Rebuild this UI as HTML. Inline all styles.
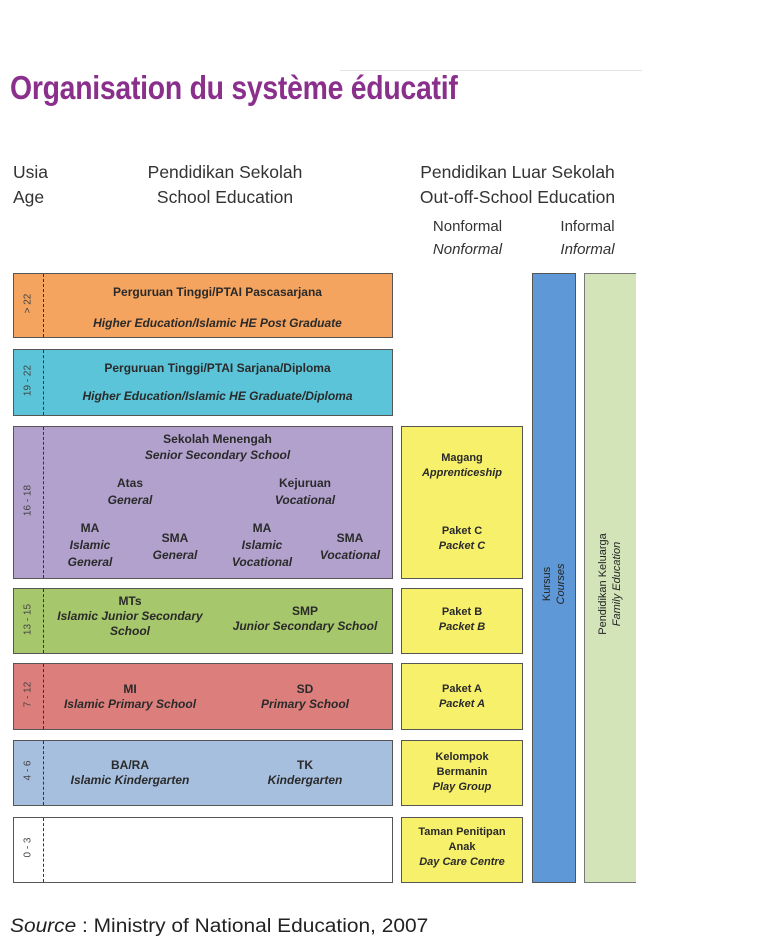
<!DOCTYPE html>
<html><head><meta charset="utf-8"><style>
body{margin:0;width:757px;height:944px;background:#fff;position:relative;overflow:hidden;font-family:"Liberation Sans",sans-serif;}
.a{position:absolute;}
.box{position:absolute;border:1.5px solid #555;box-sizing:border-box;}
.t{position:absolute;text-align:center;font-size:12px;font-weight:bold;color:#2a2a2a;line-height:15px;}
.t i{font-style:italic;}
.age{position:absolute;transform:rotate(-90deg);font-size:10px;color:#444;text-align:center;width:60px;}
.dash{position:absolute;border-left:1.5px dashed #333;}
.h{position:absolute;font-size:17.5px;color:#333;text-align:center;white-space:nowrap;}
.hs{position:absolute;font-size:15px;color:#333;text-align:center;}
</style></head><body>
<div class="a" style="left:340px;top:70px;width:302px;height:1px;background:#e4e4e4"></div>
<div class="a" style="left:10px;top:69px;font-size:33px;font-weight:bold;color:#8a2f8c;transform:scaleX(0.86);transform-origin:left;letter-spacing:-0.3px;white-space:nowrap">Organisation du système éducatif</div>

<div class="h" style="left:13px;top:162px;text-align:left">Usia</div>
<div class="h" style="left:13px;top:187px;text-align:left">Age</div>
<div class="h" style="left:100px;top:162px;width:250px">Pendidikan Sekolah</div>
<div class="h" style="left:100px;top:187px;width:250px">School Education</div>
<div class="h" style="left:400px;top:162px;width:235px">Pendidikan Luar Sekolah</div>
<div class="h" style="left:400px;top:187px;width:235px">Out-off-School Education</div>
<div class="hs" style="left:410px;top:218px;width:115px">Nonformal</div>
<div class="hs" style="left:410px;top:241px;width:115px;font-style:italic">Nonformal</div>
<div class="hs" style="left:540px;top:218px;width:95px">Informal</div>
<div class="hs" style="left:540px;top:241px;width:95px;font-style:italic">Informal</div>

<div class="box" style="left:13px;top:273px;width:380px;height:65px;background:#f4a45e"></div>
<div class="box" style="left:13px;top:349px;width:380px;height:67px;background:#5bc4d8"></div>
<div class="box" style="left:13px;top:426px;width:380px;height:153px;background:#b1a1cc"></div>
<div class="box" style="left:13px;top:588px;width:380px;height:66px;background:#a6c76b"></div>
<div class="box" style="left:13px;top:663px;width:380px;height:67px;background:#dc7f7c"></div>
<div class="box" style="left:13px;top:740px;width:380px;height:66px;background:#a6bfdf"></div>
<div class="box" style="left:13px;top:817px;width:380px;height:66px;background:#fff"></div>
<div class="dash" style="left:43px;top:274px;height:63px"></div>
<div class="dash" style="left:43px;top:350px;height:65px"></div>
<div class="dash" style="left:43px;top:427px;height:151px"></div>
<div class="dash" style="left:43px;top:589px;height:64px"></div>
<div class="dash" style="left:43px;top:664px;height:65px"></div>
<div class="dash" style="left:43px;top:741px;height:64px"></div>
<div class="dash" style="left:43px;top:818px;height:64px"></div>
<div class="age" style="left:-2px;top:298px">&gt; 22</div>
<div class="age" style="left:-2px;top:375px">19 - 22</div>
<div class="age" style="left:-2px;top:495px">16 - 18</div>
<div class="age" style="left:-2px;top:614px">13 - 15</div>
<div class="age" style="left:-2px;top:689px">7 - 12</div>
<div class="age" style="left:-2px;top:765px">4 - 6</div>
<div class="age" style="left:-2px;top:842px">0 - 3</div>

<div class="t" style="left:45px;top:285px;width:345px">Perguruan Tinggi/PTAI Pascasarjana</div>
<div class="t" style="left:45px;top:316px;width:345px"><i>Higher Education/Islamic HE Post Graduate</i></div>
<div class="t" style="left:45px;top:361px;width:345px">Perguruan Tinggi/PTAI Sarjana/Diploma</div>
<div class="t" style="left:45px;top:389px;width:345px"><i>Higher Education/Islamic HE Graduate/Diploma</i></div>
<div class="t" style="left:45px;top:431px;width:345px;line-height:16px">Sekolah Menengah<br><i>Senior Secondary School</i></div>
<div class="t" style="left:80px;top:475px;width:100px;line-height:17px">Atas<br><i>General</i></div>
<div class="t" style="left:245px;top:475px;width:120px;line-height:17px">Kejuruan<br><i>Vocational</i></div>
<div class="t" style="left:55px;top:520px;width:70px;line-height:17px">MA<br><i>Islamic<br>General</i></div>
<div class="t" style="left:140px;top:530px;width:70px;line-height:17px">SMA<br><i>General</i></div>
<div class="t" style="left:222px;top:520px;width:80px;line-height:17px">MA<br><i>Islamic<br>Vocational</i></div>
<div class="t" style="left:310px;top:530px;width:80px;line-height:17px">SMA<br><i>Vocational</i></div>
<div class="t" style="left:45px;top:594px;width:170px">MTs<br><i>Islamic Junior Secondary<br>School</i></div>
<div class="t" style="left:220px;top:604px;width:170px">SMP<br><i>Junior Secondary School</i></div>
<div class="t" style="left:50px;top:682px;width:160px">MI<br><i>Islamic Primary School</i></div>
<div class="t" style="left:230px;top:682px;width:150px">SD<br><i>Primary School</i></div>
<div class="t" style="left:50px;top:758px;width:160px">BA/RA<br><i>Islamic Kindergarten</i></div>
<div class="t" style="left:230px;top:758px;width:150px">TK<br><i>Kindergarten</i></div>

<div class="box" style="left:401px;top:426px;width:122px;height:153px;background:#f7f06b"></div>
<div class="box" style="left:401px;top:588px;width:122px;height:66px;background:#f7f06b"></div>
<div class="box" style="left:401px;top:663px;width:122px;height:67px;background:#f7f06b"></div>
<div class="box" style="left:401px;top:740px;width:122px;height:66px;background:#f7f06b"></div>
<div class="box" style="left:401px;top:817px;width:122px;height:66px;background:#f7f06b"></div>
<div class="t" style="left:401px;top:451px;width:122px;font-size:11px">Magang<br><i>Apprenticeship</i></div>
<div class="t" style="left:401px;top:524px;width:122px;font-size:11px">Paket C<br><i>Packet C</i></div>
<div class="t" style="left:401px;top:605px;width:122px;font-size:11px">Paket B<br><i>Packet B</i></div>
<div class="t" style="left:401px;top:682px;width:122px;font-size:11px">Paket A<br><i>Packet A</i></div>
<div class="t" style="left:401px;top:750px;width:122px;font-size:11px">Kelompok<br>Bermanin<br><i>Play Group</i></div>
<div class="t" style="left:401px;top:825px;width:122px;font-size:11px">Taman Penitipan<br>Anak<br><i>Day Care Centre</i></div>

<div class="box" style="left:532px;top:273px;width:44px;height:610px;background:#5f98d6"></div>
<div class="a" style="left:584px;top:273px;width:52px;height:610px;background:#d4e4b9;border:1.5px solid #777;border-right:none;box-sizing:border-box"></div>
<div class="a" style="left:494px;top:570px;width:120px;transform:rotate(-90deg);font-size:11px;color:#222;text-align:center;line-height:14px">Kursus<br><i>Courses</i></div>
<div class="a" style="left:540px;top:570px;width:140px;transform:rotate(-90deg);font-size:11px;color:#222;text-align:center;line-height:14px">Pendidikan Keluarga<br><i>Family Education</i></div>

<div class="a" style="left:10px;top:916px;font-size:19px;color:#222;transform:scaleX(1.1);transform-origin:left;white-space:nowrap"><i>Source</i> : Ministry of National Education, 2007</div>
</body></html>
